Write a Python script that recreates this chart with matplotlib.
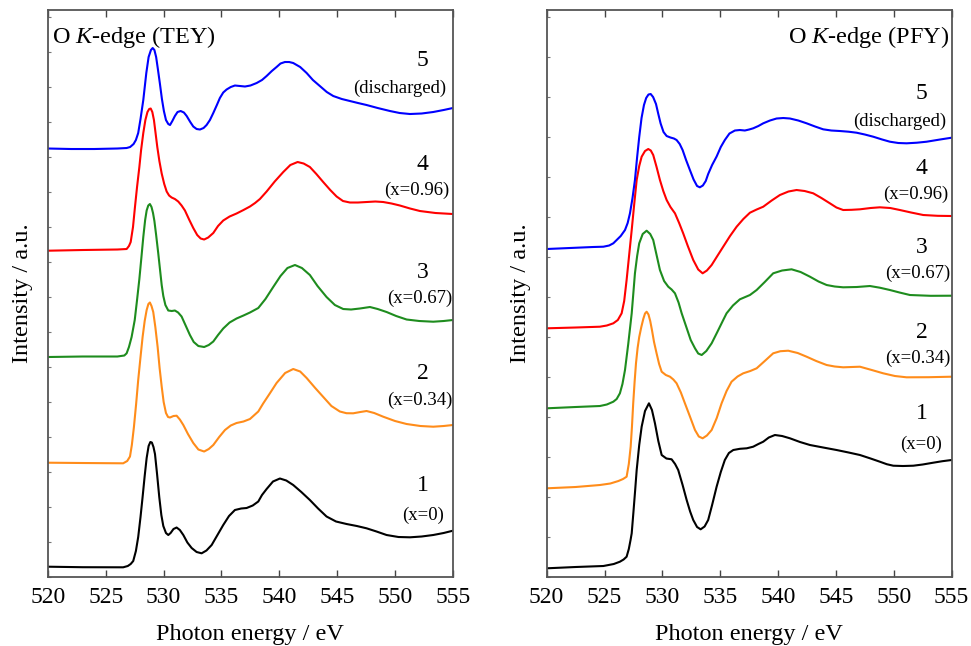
import matplotlib
matplotlib.use("Agg")
import matplotlib.pyplot as plt
from matplotlib.ticker import MultipleLocator, NullFormatter

plt.rcParams['font.family'] = ['Liberation Serif', 'DejaVu Serif']
plt.rcParams['mathtext.fontset'] = 'custom'
plt.rcParams['mathtext.rm'] = 'Liberation Serif'
plt.rcParams['mathtext.it'] = 'Liberation Serif:italic'

# ---- O K-edge TEY (stacked, already offset, a.u.) ----
tey5_e = [520, 522, 524, 526, 526.8, 527.1, 527.4, 527.6, 527.8, 528.0, 528.24, 528.5, 528.7, 528.9,
          529.05, 529.2, 529.35, 529.5, 529.68, 529.85, 530.02, 530.2, 530.4, 530.55, 530.75, 530.97,
          531.2, 531.47, 531.75, 531.99, 532.3, 532.56, 532.85, 533.14, 533.45, 533.71, 534.0, 534.29,
          534.6, 534.86, 535.15, 535.44, 535.8, 536.16, 536.6, 537.03, 537.5, 538.04, 538.5, 538.9,
          539.35, 539.76, 540.1, 540.48, 540.85, 541.2, 541.8, 542.36, 542.9, 543.5, 544.1, 544.66,
          545.4, 546.1, 546.8, 547.54, 548.5, 549.56, 550.4, 551.29, 552.3, 553.3, 554.2, 555]
tey5_i = [4.285, 4.28, 4.28, 4.285, 4.29, 4.30, 4.33, 4.37, 4.44, 4.58, 4.77, 5.04, 5.20, 5.27,
          5.29, 5.27, 5.20, 5.08, 4.93, 4.78, 4.66, 4.57, 4.53, 4.52, 4.56, 4.61,
          4.65, 4.66, 4.645, 4.61, 4.55, 4.505, 4.48, 4.475, 4.49, 4.52, 4.57, 4.64,
          4.72, 4.79, 4.845, 4.875, 4.90, 4.915, 4.91, 4.905, 4.915, 4.94, 4.97, 5.01,
          5.06, 5.10, 5.135, 5.15, 5.15, 5.14, 5.10, 5.04, 4.97, 4.91, 4.85, 4.81,
          4.78, 4.76, 4.74, 4.72, 4.69, 4.66, 4.64, 4.63, 4.635, 4.65, 4.67, 4.69]

tey4_e = [520, 523, 526.0, 526.8, 527.0, 527.15, 527.35, 527.52, 527.7, 527.9, 528.05, 528.24,
          528.42, 528.6, 528.75, 528.88, 529.02, 529.16, 529.3, 529.45, 529.63, 529.83, 530.05,
          530.26, 530.47, 530.69, 530.97, 531.26, 531.55, 531.84, 532.2, 532.56, 532.9, 533.2,
          533.5, 533.85, 534.29, 534.7, 535.15, 535.7, 536.3, 536.9, 537.46, 537.9, 538.32, 538.9,
          539.6, 540.34, 540.95, 541.58, 542.1, 542.64, 543.2, 543.79, 544.4, 544.95, 545.5, 546.1,
          546.8, 547.54, 548.3, 548.98, 549.7, 550.42, 551.3, 552.15, 553.5, 555]
tey4_i = [3.263, 3.27, 3.275, 3.28, 3.31, 3.35, 3.50, 3.70, 3.90, 4.10, 4.27, 4.44,
          4.57, 4.65, 4.68, 4.685, 4.65, 4.57, 4.44, 4.30, 4.16, 4.035, 3.93,
          3.855, 3.815, 3.795, 3.78, 3.755, 3.715, 3.665, 3.575, 3.49, 3.42, 3.385,
          3.375, 3.395, 3.44, 3.51, 3.565, 3.605, 3.635, 3.67, 3.705, 3.74, 3.78, 3.855,
          3.955, 4.05, 4.12, 4.15, 4.135, 4.10, 4.03, 3.95, 3.87, 3.805, 3.76, 3.745,
          3.745, 3.75, 3.755, 3.75, 3.735, 3.715, 3.685, 3.66, 3.64, 3.63]

tey3_e = [520, 523, 526, 526.6, 526.8, 527.0, 527.23, 527.5, 527.7, 527.9, 528.08, 528.24,
          528.4, 528.53, 528.67, 528.81, 528.95, 529.08, 529.2, 529.35, 529.53, 529.68, 529.83,
          529.97, 530.15, 530.4, 530.7, 530.97, 531.25, 531.55, 531.9, 532.27, 532.6, 533.0,
          533.5, 533.9, 534.29, 534.7, 535.15, 535.7, 536.3, 536.9, 537.46, 538.18, 538.8, 539.47,
          540.1, 540.7, 541.35, 541.95, 542.64, 543.3, 544.08, 544.8, 545.52, 546.2, 546.96, 547.83,
          548.5, 549.27, 550.1, 551.0, 552.1, 553.3, 554.2, 555]
tey3_i = [2.20, 2.205, 2.205, 2.215, 2.237, 2.30, 2.40, 2.57, 2.77, 2.98, 3.20, 3.40,
          3.57, 3.665, 3.715, 3.73, 3.70, 3.64, 3.56, 3.42, 3.24, 3.08, 2.92,
          2.81, 2.72, 2.665, 2.66, 2.665, 2.645, 2.605, 2.515, 2.42, 2.35, 2.31,
          2.30, 2.32, 2.355, 2.42, 2.485, 2.545, 2.585, 2.615, 2.645, 2.69, 2.78, 2.90,
          3.01, 3.09, 3.12, 3.09, 3.02, 2.91, 2.80, 2.72, 2.68, 2.675, 2.685, 2.70,
          2.68, 2.65, 2.61, 2.575, 2.56, 2.553, 2.56, 2.57]

tey2_e = [520, 523, 526.5, 526.85, 527.09, 527.25, 527.43, 527.62, 527.8, 528.0, 528.18, 528.36,
          528.53, 528.68, 528.81, 528.95, 529.1, 529.28, 529.48, 529.65, 529.83, 530.0, 530.2,
          530.38, 530.55, 530.85, 531.12, 531.4, 531.7, 532.1, 532.56, 533.0, 533.5, 533.9,
          534.29, 534.8, 535.3, 535.8, 536.3, 536.9, 537.46, 538.18, 538.6, 539.2, 539.76, 540.5,
          541.2, 541.8, 542.36, 543.1, 543.8, 544.5, 545.23, 545.8, 546.38, 547.0, 547.54, 548.2,
          548.98, 550.0, 551.0, 552.2, 553.3, 554.2, 555]
tey2_i = [1.143, 1.14, 1.137, 1.16, 1.205, 1.32, 1.50, 1.73, 1.97, 2.20, 2.40, 2.56,
          2.67, 2.73, 2.745, 2.71, 2.65, 2.50, 2.30, 2.09, 1.905, 1.75, 1.64,
          1.60, 1.595, 1.61, 1.613, 1.575, 1.52, 1.43, 1.34, 1.275, 1.255, 1.28,
          1.32, 1.40, 1.47, 1.515, 1.54, 1.555, 1.58, 1.655, 1.735, 1.84, 1.94, 2.04,
          2.08, 2.055, 1.99, 1.89, 1.80, 1.71, 1.655, 1.638, 1.637, 1.65, 1.66, 1.64,
          1.603, 1.56, 1.53, 1.51, 1.503, 1.51, 1.52]

tey1_e = [520, 523, 526.5, 526.9, 527.15, 527.37, 527.6, 527.8, 528.0, 528.18, 528.36, 528.53,
          528.7, 528.85, 528.98, 529.12, 529.25, 529.43, 529.62, 529.8, 529.97, 530.2, 530.4,
          530.6, 530.85, 531.12, 531.4, 531.7, 532.05, 532.42, 532.85, 533.28, 533.7, 534.15,
          534.65, 535.15, 535.65, 536.16, 536.7, 537.17, 537.7, 538.18, 538.5, 538.9, 539.45, 540.05,
          540.6, 541.2, 541.9, 542.64, 543.35, 544.08, 544.9, 545.81, 546.7, 547.54, 548.4, 549.27,
          550.3, 551.29, 552.3, 553.3, 554.2, 555]
tey1_i = [0.103, 0.098, 0.097, 0.11, 0.13, 0.16, 0.26, 0.40, 0.60, 0.80, 1.01, 1.19,
          1.31, 1.35, 1.345, 1.30, 1.23, 1.03, 0.80, 0.62, 0.51, 0.44, 0.42,
          0.44, 0.48, 0.495, 0.47, 0.42, 0.345, 0.29, 0.25, 0.237, 0.265, 0.32,
          0.42, 0.52, 0.61, 0.67, 0.685, 0.69, 0.715, 0.755, 0.82, 0.88, 0.955, 0.985,
          0.965, 0.92, 0.85, 0.77, 0.685, 0.605, 0.555, 0.53, 0.51, 0.487, 0.455, 0.42,
          0.40, 0.397, 0.405, 0.42, 0.44, 0.463]

# ---- O K-edge PFY ----
pfy5_e = [520, 522, 524, 524.9, 525.4, 525.76, 526.05, 526.4, 526.77, 527.0, 527.2, 527.42,
          527.63, 527.82, 528.0, 528.2, 528.41, 528.6, 528.8, 528.99, 529.2, 529.45, 529.65,
          529.85, 530.1, 530.37, 530.7, 531.0, 531.23, 531.5, 531.75, 532.05, 532.38, 532.7,
          533.0, 533.24, 533.5, 533.75, 533.96, 534.3, 534.69, 535.05, 535.4, 535.8, 536.27, 536.7,
          537.13, 537.5, 537.85, 538.3, 538.72, 539.3, 539.87, 540.45, 541.03, 541.75, 542.47, 543.2,
          543.9, 544.6, 545.35, 546.1, 546.79, 547.5, 548.23, 549.0, 549.67, 550.4, 551.11, 552.0,
          552.84, 554.0, 555]
pfy5_i = [3.28, 3.29, 3.30, 3.303, 3.315, 3.337, 3.37, 3.41, 3.47, 3.54, 3.637, 3.79,
          3.97, 4.20, 4.40, 4.59, 4.72, 4.79, 4.825, 4.83, 4.80, 4.73, 4.63,
          4.535, 4.45, 4.41, 4.395, 4.385, 4.37, 4.33, 4.27, 4.17, 4.07, 3.975,
          3.91, 3.897, 3.915, 3.96, 4.03, 4.12, 4.205, 4.30, 4.37, 4.435, 4.465, 4.47,
          4.465, 4.475, 4.487, 4.51, 4.537, 4.565, 4.585, 4.59, 4.585, 4.565, 4.537, 4.505,
          4.477, 4.465, 4.46, 4.453, 4.443, 4.425, 4.403, 4.375, 4.353, 4.34, 4.337, 4.343,
          4.353, 4.375, 4.393]

pfy4_e = [520, 522.5, 524.6, 525.2, 525.76, 526.15, 526.48, 526.7, 526.91, 527.13, 527.35, 527.56,
          527.78, 528.0, 528.21, 528.5, 528.78, 529.0, 529.21, 529.5, 529.79, 530.08, 530.37,
          530.7, 531.09, 531.45, 531.8, 532.2, 532.67, 533.1, 533.48, 533.85, 534.26, 534.75,
          535.26, 535.85, 536.42, 537.0, 537.57, 538.15, 538.72, 539.45, 540.16, 540.9, 541.6, 542.3,
          543.04, 543.75, 544.48, 545.05, 545.63, 546.35, 547.08, 548.0, 548.8, 549.7, 550.53, 551.5,
          552.55, 553.8, 555]
pfy4_i = [2.487, 2.495, 2.503, 2.515, 2.537, 2.57, 2.637, 2.76, 2.97, 3.22, 3.47, 3.72,
          3.97, 4.11, 4.203, 4.26, 4.28, 4.265, 4.22, 4.10, 3.97, 3.86, 3.77,
          3.70, 3.637, 3.54, 3.437, 3.31, 3.17, 3.075, 3.037, 3.065, 3.12, 3.21,
          3.303, 3.41, 3.503, 3.58, 3.643, 3.675, 3.703, 3.765, 3.82, 3.855, 3.87, 3.86,
          3.837, 3.79, 3.737, 3.695, 3.67, 3.672, 3.677, 3.69, 3.697, 3.69, 3.67, 3.645,
          3.62, 3.612, 3.61]

pfy3_e = [520, 522.5, 524.6, 525.2, 525.76, 526.05, 526.33, 526.55, 526.77, 527.05, 527.35, 527.5,
          527.63, 527.82, 528.0, 528.3, 528.64, 528.95, 529.21, 529.5, 529.79, 530.15, 530.51,
          530.8, 531.09, 531.4, 531.67, 532.1, 532.45, 532.82, 533.1, 533.4, 533.8, 534.26,
          534.75, 535.26, 535.55, 536.1, 536.7, 537.57, 538.15, 538.85, 539.58, 540.35, 541.17, 541.95,
          542.76, 543.5, 544.2, 544.9, 545.63, 546.8, 547.94, 548.8, 549.67, 550.5, 551.4, 553.2, 555]
pfy3_i = [1.687, 1.70, 1.71, 1.725, 1.753, 1.78, 1.837, 1.93, 2.07, 2.33, 2.637, 2.85,
          3.037, 3.21, 3.337, 3.43, 3.463, 3.43, 3.37, 3.22, 3.07, 2.96, 2.903,
          2.875, 2.837, 2.745, 2.637, 2.49, 2.37, 2.287, 2.235, 2.22, 2.26, 2.337,
          2.45, 2.57, 2.637, 2.715, 2.777, 2.82, 2.87, 2.95, 3.037, 3.065, 3.077, 3.05,
          3.003, 2.955, 2.92, 2.905, 2.897, 2.90, 2.91, 2.893, 2.87, 2.845, 2.82, 2.812, 2.813]

pfy2_e = [520, 522.5, 524.6, 525.5, 526.2, 526.6, 526.91, 527.1, 527.26, 527.37, 527.48, 527.6,
          527.72, 527.86, 528.0, 528.18, 528.35, 528.5, 528.64, 528.8, 528.95, 529.1, 529.28, 529.5,
          529.72, 529.94, 530.3, 530.66, 530.95, 531.23, 531.6, 531.95, 532.4, 532.82, 533.15,
          533.48, 533.85, 534.26, 534.7, 535.12, 535.55, 535.98, 536.5, 536.99, 537.6, 538.15, 538.85,
          539.58, 540.2, 540.88, 541.7, 542.47, 543.3, 544.2, 544.9, 545.63, 546.35, 547.08, 548.1,
          549.09, 550.1, 551.11, 553.0, 555]
pfy2_i = [0.887, 0.90, 0.92, 0.935, 0.96, 0.98, 1.003, 1.13, 1.303, 1.50, 1.737, 1.95,
          2.137, 2.29, 2.40, 2.50, 2.58, 2.635, 2.653, 2.625, 2.56, 2.47, 2.35, 2.237,
          2.13, 2.053, 2.02, 2.003, 1.975, 1.937, 1.845, 1.737, 1.60, 1.47, 1.405,
          1.387, 1.415, 1.47, 1.59, 1.737, 1.86, 1.953, 2.005, 2.037, 2.06, 2.087, 2.16,
          2.237, 2.258, 2.263, 2.24, 2.203, 2.16, 2.12, 2.105, 2.097, 2.10, 2.103, 2.07,
          2.037, 2.01, 1.997, 1.998, 2.003]

pfy1_e = [520, 522.5, 524.9, 525.8, 526.33, 526.65, 526.91, 527.1, 527.25, 527.35, 527.5, 527.65,
          527.78, 528.0, 528.21, 528.5, 528.84, 529.1, 529.36, 529.65, 529.94, 530.35, 530.8,
          531.1, 531.37, 531.75, 532.1, 532.4, 532.67, 533.0, 533.31, 533.65, 533.96, 534.3,
          534.69, 535.05, 535.4, 535.75, 536.13, 536.7, 537.29, 537.85, 538.3, 538.72, 539.2, 539.73,
          540.35, 541.03, 541.9, 542.76, 543.9, 545.06, 546.1, 547.08, 548.0, 548.8, 549.4, 549.96,
          550.8, 551.69, 552.5, 553.41, 554.2, 555]
pfy1_i = [0.087, 0.10, 0.11, 0.13, 0.153, 0.175, 0.203, 0.28, 0.37, 0.437, 0.65, 0.87,
          1.07, 1.32, 1.503, 1.66, 1.737, 1.67, 1.537, 1.36, 1.22, 1.185, 1.177,
          1.13, 1.07, 0.92, 0.77, 0.655, 0.57, 0.50, 0.477, 0.505, 0.57, 0.72,
          0.903, 1.05, 1.17, 1.24, 1.27, 1.282, 1.287, 1.303, 1.33, 1.353, 1.395, 1.42,
          1.41, 1.387, 1.35, 1.32, 1.295, 1.27, 1.245, 1.22, 1.185, 1.153, 1.128, 1.113,
          1.11, 1.113, 1.125, 1.143, 1.158, 1.17]

colors = ['black', '#ff8c1a', '#1e8c1e', '#ff0000', '#0000ff']
numbers = ['1', '2', '3', '4', '5']
notes = ['(x=0)', '(x=0.34)', '(x=0.67)', '(x=0.96)', '(discharged)']

# label positions (eV, a.u.) for number and note
tey_num_y = [0.92, 2.04, 3.05, 4.13, 5.17]
tey_note_x = [552.4, 552.1, 552.1, 551.9, 550.4]
tey_note_y = [0.62, 1.77, 2.79, 3.87, 4.89]
pfy_num_y = [1.64, 2.45, 3.30, 4.09, 4.84]
pfy_note_x = [552.4, 552.1, 552.1, 551.9, 550.5]
pfy_note_y = [1.33, 2.19, 3.04, 3.83, 4.56]

fig = plt.figure(figsize=(9.71, 6.46), dpi=100)
ax1 = fig.add_axes([0.0494, 0.1068, 0.417, 0.8777])
ax2 = fig.add_axes([0.563, 0.1068, 0.417, 0.8777])

tey = [(tey1_e, tey1_i), (tey2_e, tey2_i), (tey3_e, tey3_i), (tey4_e, tey4_i), (tey5_e, tey5_i)]
pfy = [(pfy1_e, pfy1_i), (pfy2_e, pfy2_i), (pfy3_e, pfy3_i), (pfy4_e, pfy4_i), (pfy5_e, pfy5_i)]


def setup(ax, curves, num_y, note_x, note_y, ystep):
    for (e, i), c in zip(curves, colors):
        ax.plot(e, i, color=c, lw=1.5, solid_joinstyle='round')
    for k in range(5):
        ax.text(552.4, num_y[k], numbers[k], ha='center', va='center', fontsize=17)
        ax.text(note_x[k], note_y[k], notes[k], ha='center', va='center', fontsize=13.5)
    ax.set_xlim(520, 555)
    ax.set_ylim(0, 5.67)
    ax.xaxis.set_major_locator(MultipleLocator(5))
    ax.yaxis.set_major_locator(MultipleLocator(ystep))
    ax.yaxis.set_major_formatter(NullFormatter())
    ax.tick_params(axis='x', direction='in', top=True, length=5, width=1, pad=7,
                   labelsize=17, color='#444444')
    ax.tick_params(axis='y', direction='in', length=2.5, width=0.8, color='#777777')
    for s in ax.spines.values():
        s.set_color('#555555')
        s.set_linewidth(1.3)
    ax.set_xlabel('Photon energy / eV', fontsize=17.5, labelpad=12)
    ax.set_ylabel('Intensity / a.u.', fontsize=17.5)
    ax.yaxis.set_label_coords(-0.038, 0.5)


setup(ax1, tey, tey_num_y, tey_note_x, tey_note_y, 0.35)
setup(ax2, pfy, pfy_num_y, pfy_note_x, pfy_note_y, 0.40)

ax1.text(0.01, 0.975, r'O $K$-edge (TEY)', transform=ax1.transAxes, ha='left', va='top', fontsize=17.5)
ax2.text(0.995, 0.975, r'O $K$-edge (PFY)', transform=ax2.transAxes, ha='right', va='top', fontsize=17.5)

fig.savefig('out.png', dpi=100)
